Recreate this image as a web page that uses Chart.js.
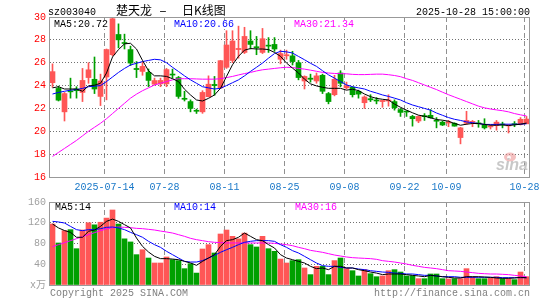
<!DOCTYPE html>
<html>
<head>
<meta charset="utf-8">
<script src="https://cdn.jsdelivr.net/npm/chart.js@4.4.1/dist/chart.umd.min.js"></script>
<style>
  html, body { margin: 0; padding: 0; background: #fff; }
  #wrap { position: relative; width: 545px; height: 300px; overflow: hidden; background: #fff; }
  #kline { position: absolute; left: 0; top: 0; }
  #vol { position: absolute; left: 0; top: 190px; }
</style>
</head>
<body>
<div id="wrap">
  <canvas id="kline" width="545" height="200"></canvas>
  <canvas id="vol" width="545" height="110"></canvas>
</div>
<script>
// trading days shown (2025-07-01 .. 2025-10-28)
const dates = [
  "07-01","07-02","07-03","07-04","07-07","07-08","07-09","07-10","07-11","07-14",
  "07-15","07-16","07-17","07-18","07-21","07-22","07-23","07-24","07-25","07-28",
  "07-29","07-30","07-31","08-01","08-04","08-05","08-06","08-07","08-08","08-11",
  "08-12","08-13","08-14","08-15","08-18","08-19","08-20","08-21","08-22","08-25",
  "08-26","08-27","08-28","08-29","09-01","09-02","09-03","09-04","09-05","09-08",
  "09-09","09-10","09-11","09-12","09-15","09-16","09-17","09-18","09-19","09-22",
  "09-23","09-24","09-25","09-26","09-29","09-30","10-09","10-10","10-13","10-14",
  "10-15","10-16","10-17","10-20","10-21","10-22","10-23","10-24","10-27","10-28"
];

const open = [
  24.25,23.75,21.70,23.50,23.70,23.40,24.70,24.55,23.05,24.75,
  26.70,28.47,27.75,27.15,25.50,25.24,25.15,24.12,24.15,24.15,
  24.97,24.70,22.85,22.60,21.80,21.70,23.03,24.10,23.80,25.60,
  26.20,27.15,26.90,27.90,27.40,26.90,27.50,27.60,26.30,26.60,
  26.60,26.00,24.40,24.65,24.40,24.90,23.30,23.20,25.10,23.80,
  23.85,23.50,22.50,22.85,22.70,22.60,22.65,22.60,21.90,21.72,
  21.30,20.90,21.32,21.40,20.92,20.80,20.72,20.70,19.45,20.70,
  20.78,20.70,20.60,20.38,20.50,20.58,20.47,20.62,20.60,20.65
];
const high = [
  25.90,23.95,23.40,24.65,23.90,25.50,26.00,26.50,25.00,27.20,
  29.95,29.40,28.50,27.45,26.10,26.05,25.45,24.65,24.65,25.50,
  25.44,24.80,23.50,22.75,21.94,23.55,24.85,24.80,26.20,28.80,
  28.80,29.20,29.10,28.80,28.30,29.00,28.20,28.20,27.10,27.10,
  27.00,26.20,24.85,25.00,25.10,25.00,23.40,24.90,25.30,24.30,
  23.90,23.60,23.10,23.20,22.95,22.70,23.20,22.75,22.00,21.80,
  21.40,21.35,21.55,21.90,21.20,20.90,20.95,20.75,20.35,21.75,
  20.95,20.95,21.10,20.55,20.95,20.80,20.60,20.85,21.20,21.30
];
const low = [
  23.85,22.65,20.90,22.90,22.90,22.60,24.20,23.30,22.25,22.75,
  26.60,27.30,27.20,25.75,24.70,24.90,23.90,24.05,23.90,23.90,
  24.65,22.88,22.65,21.70,21.56,21.57,23.00,23.15,23.75,25.50,
  26.00,26.40,26.80,27.20,26.70,26.80,26.90,27.00,25.90,26.30,
  25.80,24.50,23.70,24.30,24.20,23.30,22.40,23.10,23.90,23.70,
  23.00,22.90,22.00,22.60,22.40,22.10,22.20,21.85,21.30,21.30,
  20.45,20.75,20.95,21.15,20.30,20.50,20.40,20.45,18.90,20.60,
  20.40,20.35,20.20,20.20,20.10,20.30,19.85,20.40,20.55,20.70
];
const close = [
  25.22,22.72,23.30,23.45,23.55,24.45,25.38,23.70,24.40,27.15,
  29.85,28.00,27.68,25.97,25.40,25.68,24.45,24.44,24.45,25.40,
  24.92,23.05,22.80,22.00,21.75,23.40,24.12,24.00,26.18,27.55,
  27.90,27.25,28.30,27.60,27.30,28.10,27.45,27.20,26.80,26.70,
  26.10,24.70,24.80,24.55,24.85,23.50,22.60,24.55,24.20,24.00,
  23.20,23.25,23.00,22.75,22.65,22.70,22.72,22.05,21.65,21.68,
  21.10,21.30,21.28,21.18,20.88,20.55,20.76,20.45,20.30,20.95,
  20.82,20.65,20.30,20.42,20.80,20.55,20.50,20.58,21.05,21.07
];

const ma5 = [
  23.80,23.90,23.70,23.70,23.70,23.50,23.97,24.03,24.20,25.10,
  26.50,27.15,27.65,27.70,27.20,26.20,25.30,24.85,24.85,24.80,
  24.60,24.35,23.68,23.18,22.74,22.65,22.88,23.18,23.76,24.80,
  25.82,26.56,27.10,27.24,27.20,27.20,27.15,26.90,26.56,25.97,
  25.53,25.10,24.56,24.15,23.97,23.85,23.76,23.76,23.76,23.60,
  23.68,23.56,23.26,23.03,22.88,22.80,22.74,22.38,22.10,21.85,
  21.62,21.41,21.32,21.18,21.03,20.97,20.88,20.68,20.53,20.62,
  20.68,20.68,20.60,20.53,20.53,20.56,20.50,20.56,20.62,20.72
];
const ma10 = [
  23.26,23.40,23.50,23.60,23.65,23.75,23.90,23.95,24.00,24.35,
  24.75,25.15,25.50,25.80,25.95,26.10,26.20,26.30,26.25,26.00,
  25.60,25.23,24.85,24.50,24.20,23.90,23.80,23.70,23.76,24.00,
  24.25,24.50,24.85,25.24,25.60,25.97,26.40,26.80,27.00,26.95,
  26.85,26.55,26.26,25.95,25.68,25.30,24.94,24.65,24.35,24.06,
  23.90,23.80,23.70,23.50,23.35,23.18,23.05,22.90,22.74,22.50,
  22.30,22.15,22.00,21.85,21.60,21.40,21.20,21.05,20.95,20.82,
  20.75,20.68,20.60,20.60,20.60,20.62,20.62,20.62,20.62,20.66
];
const ma30 = [
  17.80,18.15,18.50,18.85,19.20,19.60,20.00,20.35,20.70,21.10,
  21.55,22.00,22.45,22.90,23.25,23.55,23.80,24.05,24.20,24.35,
  24.50,24.60,24.60,24.60,24.58,24.56,24.56,24.56,24.60,24.70,
  24.80,24.93,25.05,25.15,25.28,25.38,25.44,25.50,25.56,25.60,
  25.58,25.50,25.44,25.35,25.25,25.15,25.10,25.06,25.04,25.03,
  24.98,24.96,24.96,24.98,25.00,25.00,24.95,24.88,24.78,24.60,
  24.45,24.25,24.05,23.85,23.65,23.42,23.20,23.00,22.80,22.60,
  22.40,22.20,22.05,21.95,21.87,21.80,21.70,21.55,21.44,21.34
];

// volume, unit: 万手
const volume = [
  117.6,81.0,104.7,106.7,70.0,106.0,120.0,116.0,121.0,129.0,
  144.6,117.6,89.0,83.0,58.5,68.0,52.0,42.4,42.4,54.0,
  48.8,47.0,31.5,41.0,23.0,69.4,77.8,61.7,98.3,106.0,
  93.8,89.0,100.0,77.8,73.3,93.8,70.0,65.0,50.0,42.4,
  47.0,48.8,32.8,20.0,36.0,36.0,20.0,47.0,52.0,31.5,
  27.6,17.4,29.6,21.8,16.0,17.4,27.6,29.6,25.0,17.4,
  18.0,12.2,12.2,21.2,21.2,12.2,11.6,12.2,12.2,31.5,
  15.4,12.2,12.2,13.5,16.0,12.2,12.2,10.3,25.0,16.0
];
const volMa5 = [
  117.6,110.0,105.0,101.5,92.0,92.0,103.5,106.0,113.0,122.7,
  127.0,122.7,116.3,110.0,90.6,74.5,63.6,55.3,50.8,50.8,
  50.0,48.8,45.6,42.4,37.9,45.6,52.0,58.5,74.5,85.5,
  87.4,92.0,100.2,93.8,87.4,85.5,77.8,71.3,58.5,52.0,
  48.8,45.6,42.4,36.0,31.5,32.8,29.6,36.0,36.0,32.8,
  32.8,29.6,27.6,25.0,23.0,20.0,21.2,21.2,21.2,20.0,
  18.6,17.4,16.0,18.6,17.4,16.0,14.8,13.5,13.5,16.0,
  16.0,16.0,15.4,14.8,13.5,12.9,12.9,13.5,14.8,14.0
];
const volMa10 = [
  122.7,121.5,119.5,113.0,106.7,104.7,106.7,106.7,108.6,111.2,
  111.8,110.0,106.7,101.5,97.0,92.0,84.2,77.8,72.6,65.0,
  58.5,52.0,45.6,44.3,44.3,47.0,52.0,57.2,63.0,68.0,
  72.6,77.8,82.3,84.2,85.5,85.5,85.5,84.2,77.8,72.6,
  66.2,61.7,55.3,48.8,42.4,37.3,36.0,36.0,34.0,32.8,
  32.8,30.8,29.6,27.6,26.3,25.0,24.4,23.0,22.5,21.2,
  21.2,20.0,18.6,18.6,17.4,16.0,16.0,16.0,14.8,14.8,
  14.8,14.8,14.8,14.8,14.8,14.1,14.1,14.1,14.1,14.0
];
const volMa30 = [
  73.9,77.8,81.6,85.5,89.3,93.2,97.0,100.9,104.7,108.0,
  110.5,111.8,111.2,110.5,109.2,108.6,107.3,106.0,104.0,102.2,
  100.2,97.0,93.8,90.0,87.4,85.5,83.5,82.3,81.6,81.0,
  81.0,81.0,81.0,81.0,81.0,81.0,81.0,80.3,79.0,77.8,
  75.8,72.6,70.0,66.8,64.9,63.0,60.4,57.8,55.9,54.0,
  52.7,52.0,51.4,50.8,49.5,46.9,45.6,44.3,42.4,40.5,
  37.9,36.0,34.0,32.8,31.5,29.6,27.6,27.0,26.3,25.0,
  23.8,22.5,21.8,21.2,21.2,20.6,20.0,18.6,17.4,16.0
];

const tickDates = ["07-14","07-28","08-11","08-25","09-08","09-22","10-09","10-28"];
const tickLabels = ["2025-07-14","07-28","08-11","08-25","09-08","09-22","10-09","10-28"];
const priceTicks = [16, 18, 20, 22, 24, 26, 28, 30];
const volTicks = [0, 40, 80, 120, 160];

const RED = "#ff5656";
const GREEN = "#00a000";
const MONO = '"Liberation Mono", "DejaVu Sans Mono", monospace';
const tickIdx = tickDates.map(d => dates.indexOf(d));
const candleColor = dates.map((d, i) => close[i] >= open[i] ? RED : GREEN);
const xMin = -5 / 12, xMax = dates.length - 5 / 12;
const last = dates.length - 1;

function xy(arr) { return arr.map((v, i) => ({ x: i, y: v })); }
function maLine(arr, color) {
  return { type: "line", data: xy(arr), borderColor: color, borderWidth: 1,
           pointRadius: 0, tension: 0, order: 0 };
}

// date axis: dashed grid at the marked days
function dateAxis(showLabels) {
  return {
    type: "linear", min: xMin, max: xMax, offset: false,
    afterBuildTicks: s => { s.ticks = tickIdx.map(k => ({ value: k - 1 / 3 })); },
    afterFit: s => { s.height = showLabels ? 23 : 0; },
    grid: { drawTicks: false, color: "#909090", lineWidth: 1, offset: false },
    border: { display: false, dash: [5, 3] },
    ticks: { display: showLabels, autoSkip: false, maxRotation: 0, color: "#1a78c8",
             padding: 4, font: { family: MONO, size: 10 },
             callback: (v, i) => tickLabels[i] }
  };
}

// value axis: dotted grid, nothing on the frame lines
function valueAxis(min, max, ticks, color, cb) {
  return {
    min: min, max: max,
    afterBuildTicks: s => { s.ticks = ticks.map(v => ({ value: v })); },
    afterFit: s => { s.width = 50; },
    grid: { drawTicks: false, lineWidth: 1, offset: false,
            color: c => (c.tick && (c.tick.value === min || c.tick.value === max)) ? "rgba(0,0,0,0)" : "#707070" },
    border: { display: false, dash: [1, 2] },
    ticks: { color: color, padding: 4,
             font: { family: MONO + ', "Noto Sans CJK SC"', size: 10 }, callback: cb }
  };
}

// frame and texts on top of the plot
function framePlugin(textFn) {
  return {
    id: "sinaFrame",
    afterDatasetsDraw(chart) {
      const { ctx, chartArea: a } = chart;
      ctx.save();
      ctx.strokeStyle = "#999";
      ctx.lineWidth = 1;
      ctx.setLineDash([]);
      ctx.strokeRect(Math.round(a.left) - 0.5, Math.round(a.top) + 0.5,
                     Math.round(a.right - a.left), Math.round(a.bottom - a.top));
      textFn(ctx, a);
      ctx.restore();
    }
  };
}

function maLabels(ctx, items, base) {
  ctx.font = "10px " + MONO;
  ctx.textAlign = "left";
  ctx.textBaseline = "alphabetic";
  items.forEach(([txt, x, color]) => {
    const w = ctx.measureText(txt).width;
    ctx.fillStyle = "#fff";
    ctx.fillRect(x - 1, base - 7, w + 2, 9);
    ctx.fillStyle = color;
    ctx.fillText(txt, x, base);
  });
}

new Chart(document.getElementById("kline"), {
  data: {
    datasets: [
      maLine(ma5, "#000000"),
      maLine(ma10, "#0000ff"),
      maLine(ma30, "#ff00ff"),
      { type: "bar", data: dates.map((d, i) => ({ x: i, y: [low[i], high[i]] })),
        backgroundColor: candleColor, barThickness: 1, grouped: false, order: 2 },
      { type: "bar", data: dates.map((d, i) => ({ x: i, y: [open[i], close[i]] })),
        backgroundColor: candleColor, barThickness: 5, minBarLength: 1, grouped: false, order: 1 }
    ]
  },
  options: {
    responsive: false,
    animation: false,
    events: [],
    layout: { padding: { top: 17, right: 15, left: 0, bottom: 0 } },
    plugins: { legend: { display: false }, tooltip: { enabled: false } },
    scales: {
      x: dateAxis(true),
      y: valueAxis(16, 30, priceTicks, "#ff0000", v => String(v))
    }
  },
  plugins: [framePlugin((ctx, a) => {
    maLabels(ctx, [
      ["MA5:" + ma5[last].toFixed(2), 54, "#000000"],
      ["MA10:" + ma10[last].toFixed(2), 174, "#0000ff"],
      ["MA30:" + ma30[last].toFixed(2), 294, "#ff00ff"]
    ], 27);
    ctx.fillStyle = "#000";
    ctx.font = "10px " + MONO;
    ctx.fillText("sz003040", 48, 15);
    ctx.textAlign = "right";
    ctx.fillText("2025-" + dates[last] + " 15:00:00", 530, 15);
    ctx.textAlign = "left";
    ctx.font = '12px "Noto Sans CJK SC"';
    ctx.fillText("楚天龙", 116, 14.5);
    ctx.fillText("日K线图", 182, 14.5);
    ctx.save();
    ctx.translate(159, 14.5);
    ctx.scale(1.9, 1);
    ctx.fillText("-", 0, 0);
    ctx.restore();
    // sina watermark
    ctx.fillStyle = "rgba(235,140,140,0.55)";
    ctx.beginPath(); ctx.ellipse(510, 157, 6, 4.5, 0, 0, Math.PI * 2); ctx.fill();
    ctx.fillStyle = "rgba(255,255,255,0.9)";
    ctx.beginPath(); ctx.arc(509, 157.5, 2, 0, Math.PI * 2); ctx.fill();
    ctx.fillStyle = "rgba(190,190,190,0.85)";
    ctx.font = 'italic bold 16px "Liberation Sans"';
    ctx.fillText("sina", 496, 170);
  })]
});

new Chart(document.getElementById("vol"), {
  data: {
    datasets: [
      maLine(volMa5, "#000000"),
      maLine(volMa10, "#0000ff"),
      maLine(volMa30, "#ff00ff"),
      { type: "bar", data: xy(volume), backgroundColor: candleColor,
        barThickness: 5, grouped: false, order: 1 }
    ]
  },
  options: {
    responsive: false,
    animation: false,
    events: [],
    layout: { padding: { top: 12, right: 15, left: 0, bottom: 15 } },
    plugins: { legend: { display: false }, tooltip: { enabled: false } },
    scales: {
      x: dateAxis(false),
      y: valueAxis(0, 160, volTicks, "#a0a0a0", v => v === 0 ? "x万" : String(v))
    }
  },
  plugins: [framePlugin((ctx, a) => {
    maLabels(ctx, [
      ["MA5:" + Math.round(volMa5[last]), 55, "#000000"],
      ["MA10:" + Math.round(volMa10[last]), 174, "#0000ff"],
      ["MA30:" + Math.round(volMa30[last]), 295, "#ff00ff"]
    ], 20);
    ctx.fillStyle = "#808080";
    ctx.font = "10px " + MONO;
    ctx.textAlign = "left";
    ctx.fillText("Copyright 2025 SINA.COM", 50, 106);
    ctx.textAlign = "right";
    ctx.fillText("http://finance.sina.com.cn", 530, 106);
  })]
});
</script>
</body>
</html>
